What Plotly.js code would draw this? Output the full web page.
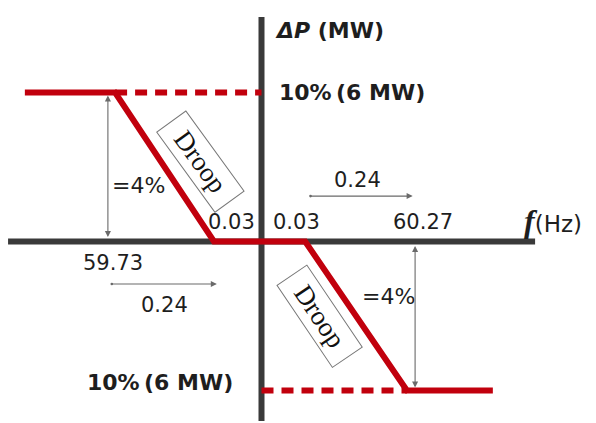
<!DOCTYPE html>
<html>
<head>
<meta charset="utf-8">
<script src="https://cdn.plot.ly/plotly-3.0.1.min.js"></script>
<style>html,body{margin:0;padding:0;background:#fff;}#chart{width:596px;height:423px;}</style>
</head>
<body>
<div id="chart"></div>
<script>
// Schematic positions (diagram is not to scale)
const xKnee = [-3.05, -0.99, 0.91, 3.03];      // 59.73 Hz, -0.03 dead band, +0.03 dead band, 60.27 Hz
const xEnd = [-4.93, 4.82];                    // ends of the saturated segments
const pLimit = [1, -1];                        // +10% (6 MW), -10% (6 MW)
const kneeLabels = ['59.73', '0.03', '0.03', '60.27'];
const spanLabel = '0.24';
const droopLabel = '=4%';
const limitLabel = '10%\u2009(6 MW)';
const axisExtentX = [-5.28, 5.70];
const axisExtentY = [-1.205, 1.507];

const RED = '#c1000d';
const AX = '#3a3a3a';
const GRAY = '#6a6a6a';
const TXT = '#1e1e1e';

const traces = [
  {x: axisExtentX, y: [0, 0], mode: 'lines', line: {color: AX, width: 6}, hoverinfo: 'skip'},
  {x: [0, 0], y: axisExtentY, mode: 'lines', line: {color: AX, width: 6}, hoverinfo: 'skip'},
  {x: [xKnee[0], 0], y: [pLimit[0], pLimit[0]], mode: 'lines', line: {color: RED, width: 6, dash: '12px,8px'}, hoverinfo: 'skip'},
  {x: [0, xKnee[3]], y: [pLimit[1], pLimit[1]], mode: 'lines', line: {color: RED, width: 6, dash: '12px,8px'}, hoverinfo: 'skip'},
  {x: [xEnd[0], xKnee[0], xKnee[1], xKnee[2], xKnee[3], xEnd[1]],
   y: [pLimit[0], pLimit[0], 0, 0, pLimit[1], pLimit[1]],
   mode: 'lines', line: {color: RED, width: 6}, hoverinfo: 'skip'}
];

const sans = 'DejaVu Sans, Liberation Sans, Arial, sans-serif';
const serif = 'Liberation Serif, Times New Roman, serif';
function txt(text, x, y, opts) {
  return Object.assign({text: text, x: x, y: y, xref: 'x', yref: 'y', showarrow: false,
    xanchor: 'center', yanchor: 'middle', font: {family: sans, size: 21, color: TXT}}, opts || {});
}
function arrow(x, y, ax, ay, both) {
  return {x: x, y: y, ax: ax, ay: ay, xref: 'x', yref: 'y', axref: 'x', ayref: 'y', text: '',
    showarrow: true, arrowcolor: GRAY, arrowwidth: 1.1, arrowhead: 2, arrowsize: 1.1,
    arrowside: 'end+start', startarrowhead: both ? 2 : 6, startarrowsize: both ? 1.1 : 0.6};
}

const annotations = [
  txt('<b><i>\u0394P</i> (MW)</b>', 0.24, 1.419, {xanchor: 'left', font: {family: sans, size: 22, color: TXT}}),
  txt('<b>' + limitLabel + '</b>', 0.32, pLimit[0], {xanchor: 'left', font: {family: sans, size: 22, color: TXT}}),
  txt('<b>' + limitLabel + '</b>', -2.115, -0.943, {font: {family: sans, size: 22, color: TXT}}),
  txt('<span style="font-family:Liberation Serif;font-size:32px"><b><i>f</i></b></span><span style="font-size:23px">(Hz)</span>', 5.42, 0.14, {xanchor: 'left', font: {family: sans, size: 23, color: TXT}}),
  txt(kneeLabels[0], -3.104, -0.144),
  txt(kneeLabels[1], -0.635, 0.131),
  txt(kneeLabels[2], 0.719, 0.131),
  txt(kneeLabels[3], 3.365, 0.131),
  txt(droopLabel, -3.16, 0.379, {xanchor: 'left', font: {family: sans, size: 22, color: TXT}}),
  txt(droopLabel, 2.646, -0.372, {font: {family: sans, size: 22, color: TXT}}),
  txt(spanLabel, (xKnee[2] + xKnee[3]) / 2 + 0.03, 0.413),
  txt(spanLabel, (xKnee[0] + xKnee[1]) / 2, -0.426),
  // droop boxes
  txt('Droop', -1.28, 0.534, {textangle: 54, font: {family: serif, size: 27, color: '#111'},
    bordercolor: '#777', borderwidth: 1, borderpad: 0, bgcolor: 'rgba(255,255,255,0)', width: 98, height: 35}),
  txt('Droop', 1.22, -0.50, {textangle: 56, font: {family: serif, size: 27, color: '#111'},
    bordercolor: '#777', borderwidth: 1, borderpad: 0, bgcolor: 'rgba(255,255,255,0)', width: 98, height: 35}),
  // dimension arrows
  arrow(-3.2, pLimit[0] - 0.02, -3.2, 0.02, true),
  arrow(3.2, pLimit[1] + 0.02, 3.2, -0.02, true),
  arrow(xKnee[3] + 0.12, 0.305, xKnee[2] + 0.08, 0.305, false),
  arrow(xKnee[1] + 0.06, -0.285, xKnee[0] - 0.1, -0.285, false)
];

const layout = {
  width: 596, height: 423,
  margin: {l: 0, r: 0, t: 0, b: 0},
  paper_bgcolor: '#fff', plot_bgcolor: '#fff',
  showlegend: false,
  xaxis: {range: [-5.448, 6.969], visible: false, fixedrange: true},
  yaxis: {range: [-1.218, 1.621], visible: false, fixedrange: true},
  annotations: annotations
};

Plotly.newPlot('chart', traces, layout, {staticPlot: true, displayModeBar: false});
</script>
</body>
</html>
